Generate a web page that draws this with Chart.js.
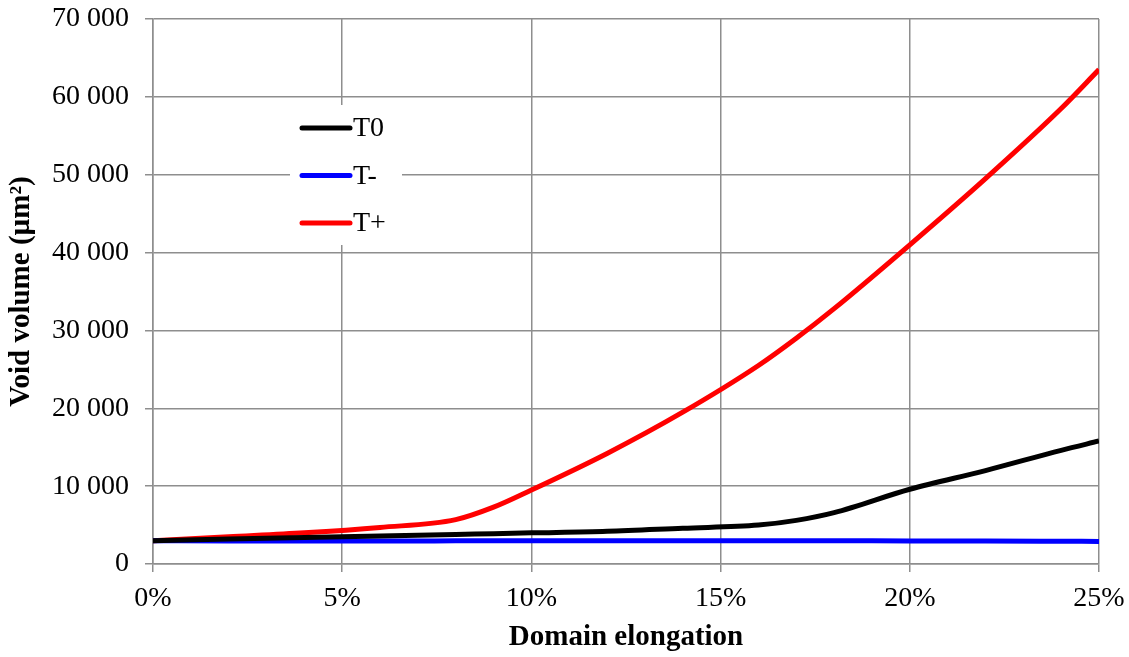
<!DOCTYPE html>
<html>
<head>
<meta charset="utf-8">
<script src="https://cdn.jsdelivr.net/npm/chart.js@4.4.0/dist/chart.umd.min.js"></script>
<style>
    html, body { margin: 0; padding: 0; background: #fff; }
    #wrap { width: 1129px; height: 657px; }
</style>
</head>
<body>
<div id="wrap"><canvas id="voidChart"></canvas></div>
<script>
// elongation in %, void volume in µm²
var elongation = [0, 2, 4, 6, 8, 9, 10, 12, 14, 16, 17, 18, 20, 22, 24, 25];
var voidT0     = [3000, 3200, 3400, 3600, 3800, 3900, 4000, 4200, 4600, 5000, 5600, 6600, 9600, 12000, 14600, 15800];
var voidTminus = [3000, 2950, 2950, 2950, 2980, 3000, 3000, 3000, 3000, 3000, 3000, 3000, 2950, 2950, 2920, 2900];
var voidTplus  = [3000, 3500, 4000, 4700, 5700, 7300, 9500, 14200, 19500, 25500, 29000, 32800, 41000, 49500, 58500, 63500];
var seriesNames = ['T0', 'T-', 'T+'];

function pts(vals) {
    return elongation.map(function(x, i) { return { x: x, y: vals[i] }; });
}

function spaced(v) {
    return v.toString().replace(/\B(?=(\d{3})+(?!\d))/g, ' ');
}

var serif = 'Liberation Serif';
var gridColor = '#8e8e8e';

// legend box sitting inside the plot, top left
var innerLegend = {
    id: 'innerLegend',
    beforeDatasetsDraw: function(chart) {
        var ctx = chart.ctx;
        ctx.save();
        ctx.fillStyle = '#fff';
        ctx.fillRect(290, 105, 112, 140);
        ctx.font = '28px ' + serif;
        ctx.textBaseline = 'middle';
        chart.data.datasets.forEach(function(ds, i) {
            var y = 128 + i * 47.5;
            ctx.strokeStyle = ds.borderColor;
            ctx.lineWidth = 5;
            ctx.lineCap = 'round';
            ctx.beginPath();
            ctx.moveTo(302, y);
            ctx.lineTo(350, y);
            ctx.stroke();
            ctx.fillStyle = '#000';
            ctx.fillText(ds.label, 353, y + 1);
        });
        ctx.restore();
    }
};

var ctx = document.getElementById('voidChart').getContext('2d');
var voidChart = new Chart(ctx, {
    type: 'line',
    data: {
        datasets: [
            { label: seriesNames[0], data: pts(voidT0), borderColor: '#000000' },
            { label: seriesNames[1], data: pts(voidTminus), borderColor: '#0000ff' },
            { label: seriesNames[2], data: pts(voidTplus), borderColor: '#ff0000' }
        ]
    },
    options: {
        responsive: true,
        maintainAspectRatio: false,
        animation: false,
        layout: { padding: { top: 19, right: 30, left: 0, bottom: 0 } },
        elements: {
            line: { borderWidth: 5, tension: 0.4, cubicInterpolationMode: 'monotone', fill: false },
            point: { radius: 0 }
        },
        plugins: {
            legend: { display: false },
            tooltip: { enabled: false }
        },
        scales: {
            x: {
                type: 'linear',
                min: 0,
                max: 25,
                afterFit: function(s) {
                    s.height = 93;
                    s.paddingLeft = 0;
                    s.paddingRight = 0;
                },
                grid: { color: gridColor, lineWidth: 1.5, tickLength: 8 },
                border: { color: gridColor, width: 1.5 },
                ticks: {
                    stepSize: 5,
                    padding: 10,
                    color: '#000',
                    font: { family: serif, size: 28 },
                    callback: function(v) { return v + '%'; }
                },
                title: {
                    display: true,
                    text: 'Domain elongation',
                    color: '#000',
                    padding: { top: 0, bottom: 2 },
                    font: { family: serif, size: 29, weight: 'bold' }
                }
            },
            y: {
                min: 0,
                max: 70000,
                afterFit: function(s) {
                    s.width = 153;
                    s.paddingTop = 0;
                    s.paddingBottom = 0;
                },
                grid: { color: gridColor, lineWidth: 1.5, tickLength: 8 },
                border: { color: gridColor, width: 1.5 },
                ticks: {
                    stepSize: 10000,
                    padding: 16,
                    color: '#000',
                    font: { family: serif, size: 28 },
                    callback: function(v) { return spaced(v); }
                },
                title: {
                    display: true,
                    text: 'Void volume (µm²)',
                    color: '#000',
                    padding: { top: 4, bottom: 0 },
                    font: { family: serif, size: 29, weight: 'bold' }
                }
            }
        }
    },
    plugins: [innerLegend]
});
</script>
</body>
</html>
